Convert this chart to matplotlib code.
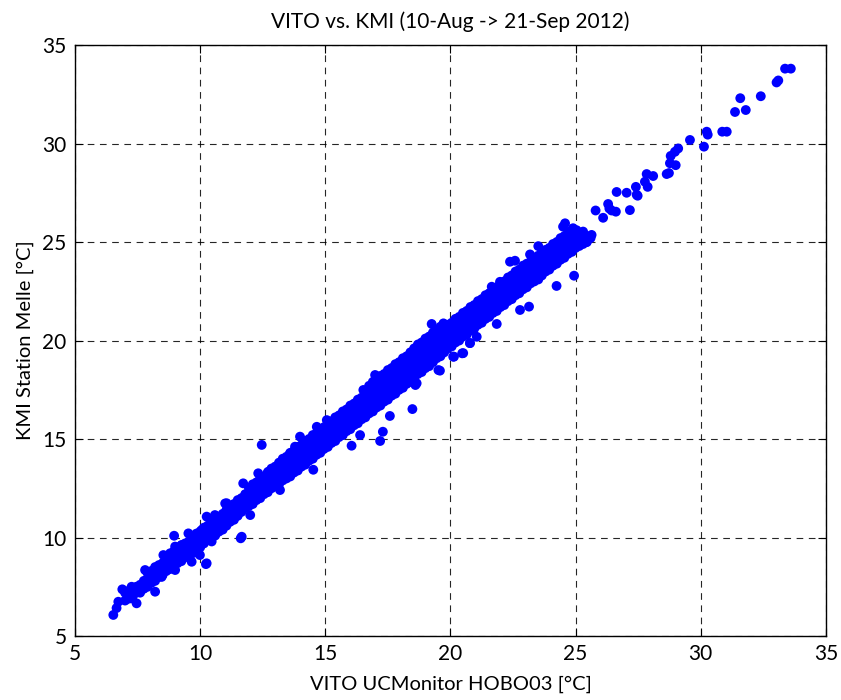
import numpy as np
import matplotlib
matplotlib.use('Agg')
import matplotlib.pyplot as plt

plt.rcParams['font.family'] = ['Lato', 'DejaVu Sans']

# VITO (x) vs KMI (y) temperatures, column by column
band_cols = [
    (7.0, [6.8, 7.2]),
    (7.3, [7.0, 7.4]),
    (7.6, [7.2, 7.6]),
    (7.9, [7.5, 7.9, 8.2]),
    (8.2, [7.8, 8.1, 8.5]),
    (8.5, [8.1, 8.4, 8.7]),
    (8.8, [8.4, 8.8, 9.2]),
    (9.1, [8.7, 9.0, 9.4]),
    (9.4, [9.0, 9.3, 9.7]),
    (9.7, [9.2, 9.6, 10.0]),
    (10.0, [9.5, 9.9, 10.3]),
    (10.3, [9.9, 10.2, 10.6]),
    (10.6, [10.1, 10.5, 10.9]),
    (10.9, [10.4, 10.8, 11.2]),
    (11.2, [10.8, 11.2, 11.6]),
    (11.5, [11.1, 11.5, 11.9]),
    (11.8, [11.5, 11.8, 12.2]),
    (12.1, [11.7, 12.0, 12.4, 12.7]),
    (12.4, [12.0, 12.3, 12.7, 13.0]),
    (12.7, [12.3, 12.6, 13.0, 13.3]),
    (13.0, [12.6, 12.9, 13.3, 13.6]),
    (13.3, [12.9, 13.2, 13.6, 14.0]),
    (13.6, [13.1, 13.5, 13.9, 14.3]),
    (13.9, [13.4, 13.8, 14.2, 14.6]),
    (14.2, [13.7, 14.1, 14.5, 14.9]),
    (14.5, [14.0, 14.4, 14.8, 15.2]),
    (14.8, [14.3, 14.7, 15.1, 15.5]),
    (15.1, [14.6, 15.0, 15.4, 15.8]),
    (15.4, [14.9, 15.3, 15.7, 16.1]),
    (15.7, [15.2, 15.6, 16.0, 16.4]),
    (16.0, [15.5, 15.9, 16.3, 16.7]),
    (16.3, [15.8, 16.2, 16.6, 17.0]),
    (16.6, [16.1, 16.5, 16.9, 17.3]),
    (16.9, [16.4, 16.8, 17.2, 17.6, 17.9]),
    (17.2, [16.7, 17.1, 17.5, 17.9, 18.2]),
    (17.5, [17.0, 17.4, 17.8, 18.2, 18.5]),
    (17.8, [17.3, 17.7, 18.1, 18.5, 18.8]),
    (18.1, [17.6, 18.0, 18.4, 18.8, 19.1]),
    (18.4, [17.9, 18.3, 18.7, 19.1, 19.4]),
    (18.7, [18.3, 18.7, 19.1, 19.5, 19.8]),
    (19.0, [18.6, 19.0, 19.4, 19.8, 20.1]),
    (19.3, [18.9, 19.3, 19.7, 20.1, 20.4]),
    (19.6, [19.2, 19.6, 20.0, 20.4, 20.7]),
    (19.9, [19.6, 20.0, 20.4, 20.8]),
    (20.2, [19.9, 20.3, 20.7, 21.1]),
    (20.5, [20.2, 20.6, 21.0, 21.4]),
    (20.8, [20.5, 20.9, 21.3, 21.7]),
    (21.1, [20.8, 21.2, 21.6, 22.0]),
    (21.4, [21.1, 21.5, 21.9, 22.3]),
    (21.7, [21.4, 21.8, 22.2, 22.6]),
    (22.0, [21.7, 22.1, 22.5, 22.9]),
    (22.3, [22.0, 22.4, 22.8, 23.2]),
    (22.6, [22.3, 22.7, 23.1, 23.5]),
    (22.9, [22.6, 23.0, 23.4, 23.8]),
    (23.2, [22.9, 23.3, 23.7, 24.0]),
    (23.5, [23.2, 23.6, 24.0, 24.3]),
    (23.8, [23.5, 23.9, 24.3, 24.6]),
    (24.1, [23.8, 24.2, 24.6, 24.9]),
    (24.4, [24.1, 24.5, 24.9, 25.2]),
    (24.7, [24.4, 24.8, 25.1, 25.5]),
    (25.0, [24.7, 25.0, 25.3]),
    (25.3, [24.9, 25.2]),
    (25.6, [25.2]),
]

# in-between columns so the band reads as solid
band_cols_mid = [
    (7.15, [6.9, 7.3]),
    (7.45, [7.2, 7.5]),
    (7.75, [7.4, 7.8]),
    (8.05, [7.7, 8.0, 8.3]),
    (8.35, [8.0, 8.3, 8.6]),
    (8.65, [8.3, 8.6, 9.0]),
    (8.95, [8.5, 8.9, 9.3]),
    (9.25, [8.8, 9.2, 9.6]),
    (9.55, [9.1, 9.5, 9.8]),
    (9.85, [9.4, 9.8, 10.2]),
    (10.15, [9.7, 10.1, 10.5]),
    (10.45, [10.0, 10.4, 10.7]),
    (10.75, [10.3, 10.7, 11.0]),
    (11.05, [10.6, 11.0, 11.4]),
    (11.35, [10.9, 11.3, 11.7]),
    (11.65, [11.3, 11.6, 12.0]),
    (11.95, [11.6, 11.9, 12.2, 12.5]),
    (12.25, [11.9, 12.2, 12.5, 12.8]),
    (12.55, [12.2, 12.5, 12.8, 13.1]),
    (12.85, [12.5, 12.8, 13.1, 13.5]),
    (13.15, [12.7, 13.1, 13.4, 13.8]),
    (13.45, [13.0, 13.4, 13.7, 14.1]),
    (13.75, [13.3, 13.7, 14.0, 14.4]),
    (14.05, [13.6, 14.0, 14.3, 14.7]),
    (14.35, [13.9, 14.3, 14.6, 15.0]),
    (14.65, [14.2, 14.6, 14.9, 15.3]),
    (14.95, [14.5, 14.8, 15.2, 15.6]),
    (15.25, [14.8, 15.1, 15.5, 15.9]),
    (15.55, [15.1, 15.4, 15.8, 16.2]),
    (15.85, [15.4, 15.7, 16.1, 16.5]),
    (16.15, [15.7, 16.0, 16.4, 16.8]),
    (16.45, [16.0, 16.4, 16.7, 17.1]),
    (16.75, [16.3, 16.6, 17.0, 17.4, 17.7]),
    (17.05, [16.6, 16.9, 17.3, 17.7, 18.0]),
    (17.35, [16.9, 17.2, 17.6, 18.0, 18.3]),
    (17.65, [17.2, 17.5, 17.9, 18.3, 18.6]),
    (17.95, [17.5, 17.8, 18.2, 18.6, 18.9]),
    (18.25, [17.8, 18.1, 18.5, 18.9, 19.2]),
    (18.55, [18.1, 18.5, 18.9, 19.3, 19.6]),
    (18.85, [18.4, 18.8, 19.2, 19.6, 19.9]),
    (19.15, [18.7, 19.1, 19.5, 19.9, 20.2]),
    (19.45, [19.1, 19.5, 19.9, 20.3, 20.5]),
    (19.75, [19.4, 19.8, 20.2, 20.6]),
    (20.05, [19.7, 20.1, 20.5, 20.9]),
    (20.35, [20.0, 20.4, 20.8, 21.2]),
    (20.65, [20.3, 20.7, 21.1, 21.5]),
    (20.95, [20.6, 21.0, 21.4, 21.8]),
    (21.25, [20.9, 21.3, 21.7, 22.1]),
    (21.55, [21.2, 21.6, 22.0, 22.4]),
    (21.85, [21.5, 21.9, 22.3, 22.7]),
    (22.15, [21.8, 22.2, 22.6, 23.0]),
    (22.45, [22.1, 22.5, 22.9, 23.3]),
    (22.75, [22.4, 22.8, 23.2, 23.6]),
    (23.05, [22.7, 23.1, 23.5, 23.9]),
    (23.35, [23.0, 23.4, 23.8, 24.1]),
    (23.65, [23.3, 23.7, 24.1, 24.4]),
    (23.95, [23.6, 24.0, 24.4, 24.7]),
    (24.25, [23.9, 24.3, 24.7, 25.0]),
    (24.55, [24.2, 24.6, 25.0, 25.3]),
    (24.85, [24.5, 24.9, 25.2, 25.6]),
    (25.15, [24.8, 25.1, 25.4]),
    (25.45, [25.0, 25.3]),
]

# edge points and scattered ones
extra_x = [6.53, 6.66, 6.73, 6.89, 7.26, 7.46, 7.26, 7.6, 7.73, 7.8, 8.2, 8.06, 8.46,
           8.6, 8.53, 8.87, 9.0, 9.0, 9.26, 8.96, 9.39, 9.66, 9.53, 9.79, 9.99, 10.26,
           9.79, 10.06, 10.26, 10.59, 10.46, 11.0, 10.86, 11.06, 11.66, 12.0, 11.72,
           12.32, 12.72, 13.19, 13.19, 13.59, 13.99, 13.79, 14.52, 14.66, 15.06,
           16.99, 16.52, 18.38, 18.65, 19.25, 19.18, 19.52, 19.72, 20.51, 20.11,
           20.78, 21.05, 21.65, 21.98, 23.18, 23.51, 23.51, 23.38, 24.58, 24.5, 24.9,
           25.04, 25.3, 25.64, 25.44, 25.1]
extra_y = [6.07, 6.42, 6.74, 7.37, 6.91, 6.66, 7.5, 7.25, 7.5, 8.35, 7.25, 8.0, 8.0,
           8.69, 9.11, 8.77, 8.35, 9.54, 9.62, 10.09, 9.03, 8.77, 10.21, 9.54, 9.11, 8.69,
           9.97, 10.38, 11.06, 11.14, 9.8, 11.73, 10.55, 11.74, 10.04, 11.14, 12.75,
           13.26, 13.34, 12.41, 13.77, 14.27, 15.12, 14.61, 13.44, 15.62, 15.96,
           18.25, 17.49, 18.93, 17.83, 20.84, 20.19, 18.5, 20.87, 19.36, 19.18,
           19.87, 20.19, 22.73, 22.98, 24.37, 24.79, 23.1, 23.75, 25.95, 25.78, 25.7,
           25.6, 25.53, 25.36, 25.0, 24.85]

# outliers below/above the band
outlier_x = [12.46, 10.23, 11.62, 16.05, 16.39, 17.19, 17.3, 17.58, 18.48, 18.6,
             19.58, 20.14, 20.47, 20.78, 21.85, 22.38, 22.58, 22.78, 23.14, 24.24, 24.94]
outlier_y = [14.7, 8.65, 9.96, 14.66, 15.2, 14.9, 15.37, 16.17, 16.52, 17.74,
             18.47, 19.18, 19.35, 19.87, 20.84, 24.0, 24.05, 21.55, 21.72, 22.77, 23.29]

# sparse warm tail
tail_x = [25.8, 26.1, 26.3, 26.35, 26.44, 26.61, 26.64, 27.17, 27.04, 27.41, 27.48,
          27.44, 27.77, 27.88, 27.84, 28.1, 28.64, 28.73, 28.77, 29.0, 28.8, 28.97,
          29.1, 29.57, 30.13, 30.24, 30.28, 30.86, 31.04, 31.37, 31.8, 31.58, 32.4,
          33.03, 33.1, 33.37, 33.6]
tail_y = [26.6, 26.23, 26.93, 26.7, 26.6, 26.54, 27.54, 26.62, 27.5, 27.8, 27.35,
          27.4, 28.06, 27.8, 28.45, 28.35, 28.45, 28.5, 29.0, 28.9, 29.37, 29.58,
          29.75, 30.18, 29.84, 30.6, 30.45, 30.6, 30.6, 31.6, 31.7, 32.3, 32.4,
          33.1, 33.2, 33.8, 33.8]

cols = band_cols + band_cols_mid
vito = [c for c, ys in cols for _ in ys] + extra_x + outlier_x + tail_x
kmi = [y for _, ys in cols for y in ys] + extra_y + outlier_y + tail_y

fig = plt.figure(figsize=(8.41, 7.0), dpi=100)
ax = fig.add_axes([0.0892, 0.0914, 0.8928, 0.8443])

ax.scatter(vito, kmi, s=50, c='#0000ff', edgecolors='none', zorder=3)

ax.set_xlim(5, 35)
ax.set_ylim(5, 35)
ax.set_xticks(np.arange(5, 36, 5))
ax.set_yticks(np.arange(5, 36, 5))
ax.grid(True, color='black', linestyle=(0, (6, 5)), linewidth=0.8, alpha=0.85)
ax.tick_params(direction='in', length=6, top=True, right=True, labelsize=15, pad=6)
for sp in ax.spines.values():
    sp.set_linewidth(1.0)

ax.set_title('VITO vs. KMI (10-Aug -> 21-Sep 2012)', fontsize=15, pad=12)
ax.set_xlabel('VITO UCMonitor HOBO03 [°C]', fontsize=14.5, labelpad=8)
ax.set_ylabel('KMI Station Melle [°C]', fontsize=14.5, labelpad=6)

fig.savefig('out.png', dpi=100)
